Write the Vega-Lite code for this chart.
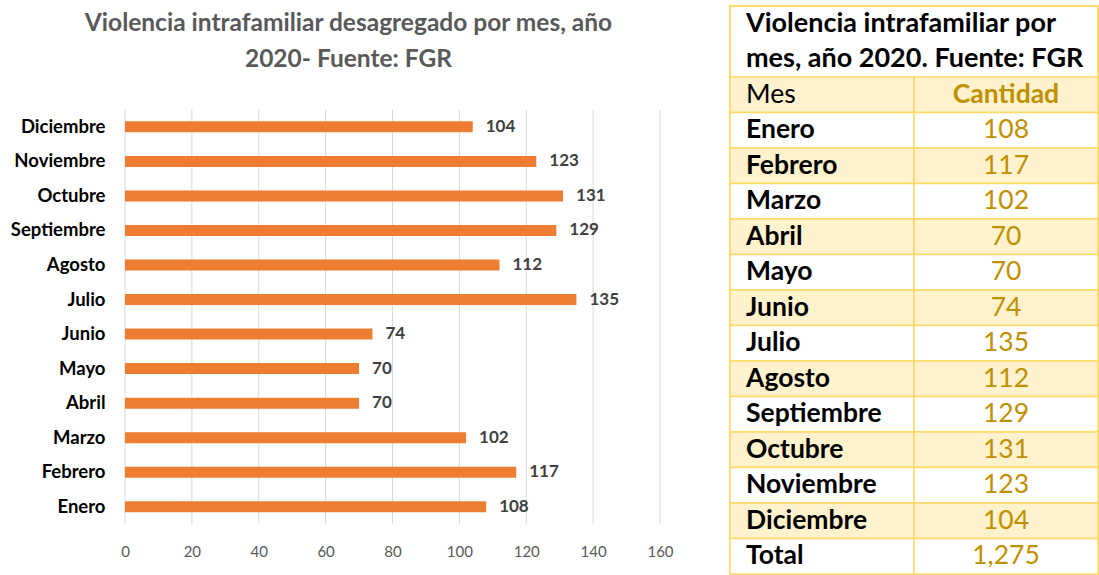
{
  "$schema": "https://vega.github.io/schema/vega-lite/v6.json",
  "padding": {"left": 10, "top": 5, "right": 0, "bottom": 0},
  "spacing": 54,
  "config": {"view": {"stroke": null}, "font": "Lato"},
  "datasets": {
    "meses": [
      {"mes": "Enero", "cantidad": 108},
      {"mes": "Febrero", "cantidad": 117},
      {"mes": "Marzo", "cantidad": 102},
      {"mes": "Abril", "cantidad": 70},
      {"mes": "Mayo", "cantidad": 70},
      {"mes": "Junio", "cantidad": 74},
      {"mes": "Julio", "cantidad": 135},
      {"mes": "Agosto", "cantidad": 112},
      {"mes": "Septiembre", "cantidad": 129},
      {"mes": "Octubre", "cantidad": 131},
      {"mes": "Noviembre", "cantidad": 123},
      {"mes": "Diciembre", "cantidad": 104}
    ],
    "rejilla": [
      {"valor": 0}, {"valor": 20}, {"valor": 40}, {"valor": 60}, {"valor": 80},
      {"valor": 100}, {"valor": 120}, {"valor": 140}, {"valor": 160}
    ],
    "tabla": [
      {"fila": "Mes", "cantidad": "Cantidad", "sombra": "si"},
      {"fila": "Enero", "cantidad": "108", "sombra": "no"},
      {"fila": "Febrero", "cantidad": "117", "sombra": "si"},
      {"fila": "Marzo", "cantidad": "102", "sombra": "no"},
      {"fila": "Abril", "cantidad": "70", "sombra": "si"},
      {"fila": "Mayo", "cantidad": "70", "sombra": "no"},
      {"fila": "Junio", "cantidad": "74", "sombra": "si"},
      {"fila": "Julio", "cantidad": "135", "sombra": "no"},
      {"fila": "Agosto", "cantidad": "112", "sombra": "si"},
      {"fila": "Septiembre", "cantidad": "129", "sombra": "no"},
      {"fila": "Octubre", "cantidad": "131", "sombra": "si"},
      {"fila": "Noviembre", "cantidad": "123", "sombra": "no"},
      {"fila": "Diciembre", "cantidad": "104", "sombra": "si"},
      {"fila": "Total", "cantidad": "1,275", "sombra": "no"}
    ],
    "titulo": [
      {"fila": "Violencia intrafamiliar por"},
      {"fila": "mes, año 2020. Fuente: FGR"}
    ]
  },
  "hconcat": [
    {
      "width": 535,
      "height": 518,
      "title": {
        "text": ["Violencia intrafamiliar desagregado por mes, año", "2020- Fuente: FGR"],
        "font": "Lato",
        "fontSize": 24.5,
        "fontWeight": "bold",
        "color": "#595959",
        "lineHeight": 36,
        "anchor": "middle",
        "dx": -44,
        "offset": -66
      },
      "encoding": {
        "y": {
          "field": "mes",
          "type": "nominal",
          "scale": {
            "domain": [" ", "  ", "   ", "Diciembre", "Noviembre", "Octubre", "Septiembre", "Agosto", "Julio", "Junio", "Mayo", "Abril", "Marzo", "Febrero", "Enero"]
          },
          "axis": {
            "title": null,
            "ticks": false,
            "domain": false,
            "labelFont": "Lato",
            "labelFontSize": 18.5,
            "labelFontWeight": "bold",
            "labelColor": "#000000",
            "labelPadding": 20
          }
        },
        "x": {
          "field": "cantidad",
          "type": "quantitative",
          "scale": {"domain": [0, 160]},
          "axis": {
            "title": null,
            "values": [0, 20, 40, 60, 80, 100, 120, 140, 160],
            "ticks": false,
            "domain": false,
            "grid": false,
            "labelFlush": false,
            "labelFont": "Lato",
            "labelFontSize": 15,
            "labelColor": "#595959",
            "labelPadding": 20
          }
        }
      },
      "layer": [
        {
          "data": {"name": "rejilla"},
          "mark": {"type": "rule", "color": "#D9D9D9", "strokeWidth": 1},
          "encoding": {
            "x": {"field": "valor", "type": "quantitative"},
            "y": {"datum": "Diciembre", "bandPosition": 0},
            "y2": {"datum": "Enero", "bandPosition": 1}
          }
        },
        {
          "data": {"name": "meses"},
          "mark": {"type": "bar", "color": "#ED7D31", "size": 11}
        },
        {
          "data": {"name": "meses"},
          "mark": {"type": "text", "align": "left", "dx": 13, "font": "Lato", "fontSize": 17, "fontWeight": "bold", "color": "#404040"},
          "encoding": {"text": {"field": "cantidad", "type": "quantitative"}}
        }
      ]
    },
    {
      "width": 368,
      "height": 568,
      "view": {"stroke": "#FFD966", "strokeWidth": 2, "fill": "#FFFFFF"},
      "encoding": {
        "y": {
          "field": "fila",
          "type": "nominal",
          "scale": {
            "domain": ["Violencia intrafamiliar por", "mes, año 2020. Fuente: FGR", "Mes", "Enero", "Febrero", "Marzo", "Abril", "Mayo", "Junio", "Julio", "Agosto", "Septiembre", "Octubre", "Noviembre", "Diciembre", "Total"],
            "paddingInner": 0,
            "paddingOuter": 0
          },
          "axis": null
        }
      },
      "layer": [
        {
          "data": {"name": "tabla"},
          "transform": [{"fold": ["fila", "cantidad"], "as": ["col", "valor"]}],
          "mark": {"type": "rect", "stroke": "#FFD966", "strokeWidth": 1.5},
          "encoding": {
            "x": {"field": "col", "type": "nominal", "scale": {"domain": ["fila", "cantidad"], "paddingInner": 0, "paddingOuter": 0}, "axis": null},
            "color": {"field": "sombra", "type": "nominal", "scale": {"domain": ["si", "no"], "range": ["#FFF2CC", "#FFFFFF"]}, "legend": null}
          }
        },
        {
          "data": {"name": "tabla"},
          "transform": [{"filter": "datum.fila != 'Mes'"}],
          "mark": {"type": "text", "align": "left", "dx": -76, "font": "Lato", "fontSize": 26.5, "fontWeight": "bold", "color": "#000000"},
          "encoding": {
            "x": {"datum": "fila", "type": "nominal"},
            "text": {"field": "fila"}
          }
        },
        {
          "data": {"name": "tabla"},
          "transform": [{"filter": "datum.fila == 'Mes'"}],
          "mark": {"type": "text", "align": "left", "dx": -76, "font": "Lato", "fontSize": 26.5, "fontWeight": "normal", "color": "#000000"},
          "encoding": {
            "x": {"datum": "fila", "type": "nominal"},
            "text": {"field": "fila"}
          }
        },
        {
          "data": {"name": "tabla"},
          "transform": [{"filter": "datum.fila != 'Mes'"}],
          "mark": {"type": "text", "align": "center", "font": "Lato", "fontSize": 26.5, "fontWeight": "normal", "color": "#BF9000"},
          "encoding": {
            "x": {"datum": "cantidad", "type": "nominal"},
            "text": {"field": "cantidad"}
          }
        },
        {
          "data": {"name": "tabla"},
          "transform": [{"filter": "datum.fila == 'Mes'"}],
          "mark": {"type": "text", "align": "center", "font": "Lato", "fontSize": 26.5, "fontWeight": "bold", "color": "#BF9000"},
          "encoding": {
            "x": {"datum": "cantidad", "type": "nominal"},
            "text": {"field": "cantidad"}
          }
        },
        {
          "data": {"name": "titulo"},
          "mark": {"type": "text", "align": "left", "dx": -76, "font": "Lato", "fontSize": 27, "fontWeight": "bold", "color": "#000000"},
          "encoding": {
            "x": {"datum": "fila", "type": "nominal"},
            "text": {"field": "fila"}
          }
        }
      ]
    }
  ]
}
